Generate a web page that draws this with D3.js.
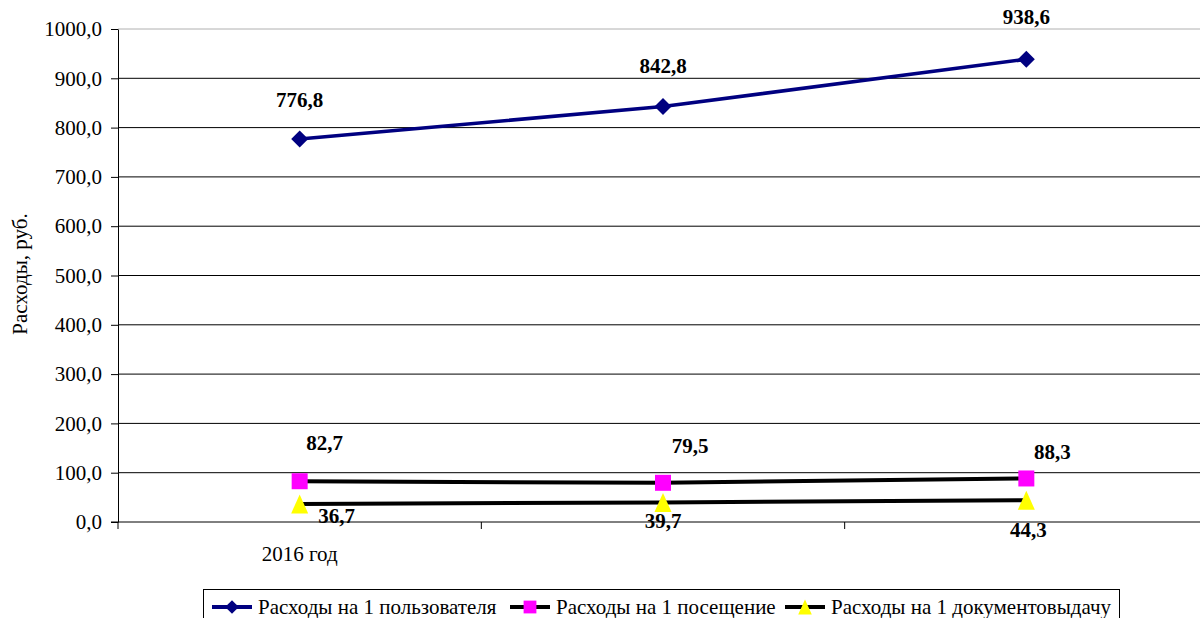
<!DOCTYPE html>
<html><head><meta charset="utf-8">
<script src="https://cdn.jsdelivr.net/npm/d3@7"></script>
<style>body{margin:0;background:#fff}svg{display:block} svg text{font-family:"Liberation Serif","Tinos","Times New Roman","DejaVu Serif",serif !important}</style>
</head><body><svg id="c" width="1200" height="618"></svg>
<script>
const categories = ["2016 год", "2017 год", "2018 год"];
const categoryLabels = ["2016 год", "", ""];
const seriesNames = ["Расходы на 1 пользователя", "Расходы на 1 посещение", "Расходы на 1 документовыдачу"];
const perUser = [776.8, 842.8, 938.6];
const perVisit = [82.7, 79.5, 88.3];
const perIssue = [36.7, 39.7, 44.3];
const yTicks = [0, 100, 200, 300, 400, 500, 600, 700, 800, 900, 1000];
const yTitle = "Расходы, руб.";

const fmt = v => d3.format(".1f")(v).replace(".", ",");
const svg = d3.select("#c");
const L = 118, R = 1208, T = 29, B = 522;
const FS = 21;
const x = d3.scaleBand().domain(categories).range([L, R]);
const y = d3.scaleLinear().domain([0, 1000]).range([B, T]);

// gridlines
svg.append("g").selectAll("line").data(yTicks.filter(d => d > 0)).join("line")
  .attr("x1", L).attr("x2", 1200).attr("y1", d => y(d)).attr("y2", d => y(d))
  .attr("stroke", d => d === 1000 ? "#b0b0b0" : "#000").attr("stroke-width", 1);

// y axis
const ya = svg.append("g").attr("transform", `translate(${L},0)`)
  .call(d3.axisLeft(y).tickValues(yTicks).tickFormat(fmt).tickSize(7).tickSizeOuter(0));
ya.attr("font-family", null);
ya.select(".domain").attr("stroke", "#000");
ya.selectAll("text").attr("font-size", FS).attr("fill", "#000").attr("x", -16);

// x axis
const xa = svg.append("g").attr("transform", `translate(0,${B})`);
xa.append("line").attr("x1", L - 7).attr("x2", 1200).attr("y1", 0).attr("y2", 0).attr("stroke", "#000");
xa.selectAll("line.t").data(categories).join("line").attr("class", "t")
  .attr("x1", d => x(d)).attr("x2", d => x(d)).attr("y1", 0).attr("y2", 7).attr("stroke", "#000");
xa.selectAll("text").data(categories).join("text")
  .attr("x", d => x(d) + x.bandwidth() / 2).attr("y", 39)
  .attr("text-anchor", "middle").attr("font-size", FS).text((d, i) => categoryLabels[i]);

// y title
svg.append("text").attr("transform", "translate(27,274) rotate(-90)")
  .attr("text-anchor", "middle").attr("font-size", FS).text(yTitle);

const cx = d => x(d) + x.bandwidth() / 2;
const series = [
  { vals: perUser, color: "#000080", marker: "diamond", mcolor: "#000080" },
  { vals: perVisit, color: "#000", marker: "square", mcolor: "#ff00ff" },
  { vals: perIssue, color: "#000", marker: "triangle", mcolor: "#ffff00" }
];
const markerPath = (m, k) => {
  if (m === "diamond") { const r = 8.5 * k; return `M0,${-r}L${r},0L0,${r}L${-r},0Z`; }
  if (m === "square") { const r = 8 * k; return `M${-r},${-r}H${r}V${r}H${-r}Z`; }
  const w = 8.5 * k, h = 9.5 * k; return `M0,${-h}L${w},${h}L${-w},${h}Z`;
};
// label offsets (layout only)
const labelOffsets = [
  [[0, -32], [0, -33], [0, -35]],
  [[25, -31], [27, -30], [26, -19]],
  [[37, 19], [0, 26], [2, 37]]
];

series.forEach((s, si) => {
  const pts = categories.map((c, i) => [cx(c), y(s.vals[i])]);
  svg.append("path").attr("d", d3.line()(pts)).attr("fill", "none")
    .attr("stroke", s.color).attr("stroke-width", si === 0 ? 3.5 : 4);
  svg.append("g").selectAll("path").data(pts).join("path")
    .attr("transform", d => `translate(${d[0]},${d[1]})`)
    .attr("d", markerPath(s.marker, 1))
    .attr("fill", s.mcolor);
  svg.append("g").selectAll("text").data(pts).join("text")
    .attr("x", (d, i) => d[0] + labelOffsets[si][i][0])
    .attr("y", (d, i) => d[1] + labelOffsets[si][i][1])
    .attr("text-anchor", "middle").attr("font-size", FS).attr("font-weight", "bold")
    .text((d, i) => fmt(s.vals[i]));
});

// legend
const lg = svg.append("g");
lg.append("rect").attr("x", 203.5).attr("y", 589.5).attr("width", 916).attr("height", 40)
  .attr("fill", "#fff").attr("stroke", "#000").attr("stroke-width", 1);
const legendX = [212, 510, 785];
series.forEach((s, si) => {
  const g = lg.append("g").attr("transform", `translate(${legendX[si]},607)`);
  g.append("line").attr("x1", 0).attr("x2", 40).attr("stroke", s.color).attr("stroke-width", 4);
  g.append("path").attr("transform", "translate(20,0)")
    .attr("d", markerPath(s.marker, 0.8)).attr("fill", s.mcolor);
  g.append("text").attr("x", 46).attr("y", 7).attr("font-size", FS).text(seriesNames[si]);
});
</script></body></html>
